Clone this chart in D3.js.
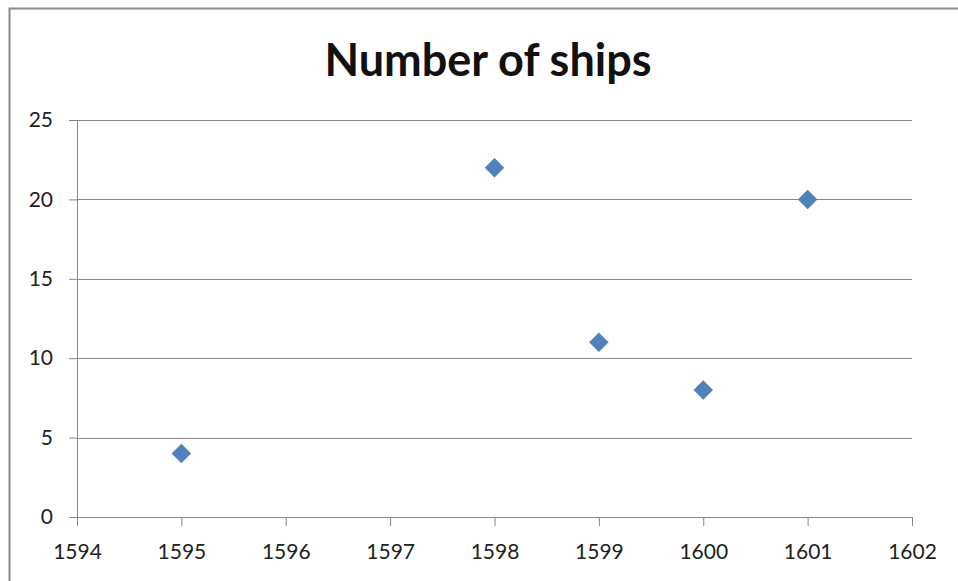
<!DOCTYPE html>
<html>
<head>
<meta charset="utf-8">
<script src="https://cdn.jsdelivr.net/npm/d3@7"></script>
<style>
  body { margin: 0; background: #fff; }
</style>
</head>
<body>
<div id="chart"></div>
<script>
// data
const years = [1595, 1598, 1599, 1600, 1601];
const ships = [4, 22, 11, 8, 20];
const xTicks = [1594, 1595, 1596, 1597, 1598, 1599, 1600, 1601, 1602];
const yTicks = [0, 5, 10, 15, 20, 25];

const W = 958, H = 581;
const margin = { top: 120, right: 46, bottom: 64, left: 77 };
const width = W - margin.left - margin.right;
const height = H - margin.top - margin.bottom;

const svg = d3.select("#chart").append("svg")
    .attr("width", W)
    .attr("height", H);

// outer chart border
svg.append("rect")
    .attr("x", 9.5).attr("y", 8.5)
    .attr("width", W).attr("height", H)
    .attr("fill", "none")
    .attr("stroke", "#8c8c8c")
    .attr("stroke-width", 2);

svg.append("text")
    .text("Number of ships")
    .attr("x", 488)
    .attr("y", 76)
    .style("font-family", "Lato, sans-serif")
    .style("font-size", "45px")
    .style("font-weight", 700)
    .style("text-anchor", "middle")
    .attr("fill", "#111");

const g = svg.append("g")
    .attr("transform", `translate(${margin.left}, ${margin.top})`);

const x = d3.scaleLinear().domain([1594, 1602]).range([0, width]);
const y = d3.scaleLinear().domain([0, 25]).range([height, 0]);

// horizontal gridlines
g.selectAll(".grid")
    .data(yTicks.filter(d => d > 0))
    .enter().append("line")
    .attr("x1", 0).attr("x2", width)
    .attr("y1", d => Math.round(y(d)) + 0.5)
    .attr("y2", d => Math.round(y(d)) + 0.5)
    .attr("stroke", "#868686");

const yAxis = g.append("g")
    .call(d3.axisLeft(y).tickValues(yTicks).tickSize(8).tickPadding(16));
const xAxis = g.append("g")
    .attr("transform", `translate(0, ${height})`)
    .call(d3.axisBottom(x).tickValues(xTicks).tickFormat(d3.format("d")).tickSize(9).tickPadding(18));

[xAxis, yAxis].forEach(a => {
    a.selectAll("path, line").attr("stroke", "#868686");
    a.selectAll("text")
        .attr("fill", "#222")
        .style("font-family", "Lato, sans-serif")
        .style("font-size", "21px");
});

const pts = years.map((yr, i) => ({ year: yr, n: ships[i] }));
g.selectAll(".dot")
    .data(pts)
    .enter().append("path")
    .attr("class", "dot")
    .attr("d", d3.symbol(d3.symbolSquare, 190))
    .attr("transform", d => `translate(${x(d.year)}, ${y(d.n)}) rotate(45)`)
    .attr("fill", "#4f81bd");
</script>
</body>
</html>
